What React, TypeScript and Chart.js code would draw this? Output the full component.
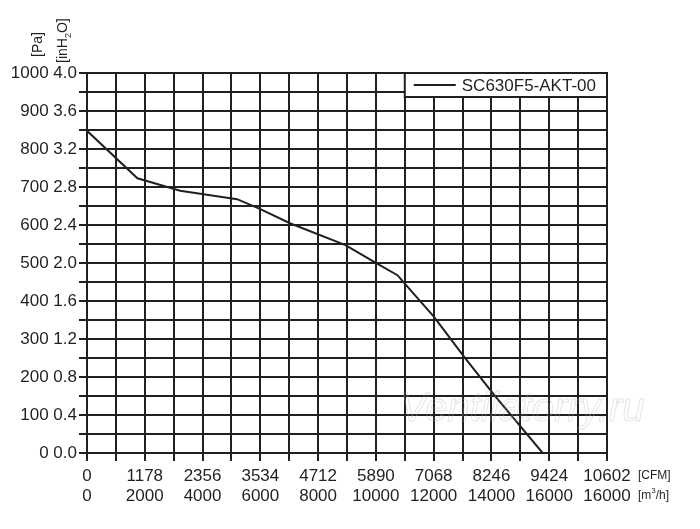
import { useEffect, useRef } from "react";
import { Chart, registerables } from "chart.js";

Chart.register(...registerables);

// Kennlinie SC630F5-AKT-00
const flowCfm = [0, 1028, 1900, 3060, 3534, 4150, 5270, 5880, 6330, 6470, 7075, 7690, 8300, 9290];
const pressurePa = [848, 723, 690, 668, 642, 604, 547, 501, 468, 447, 358, 253, 153, 0];

const cfmTicks = ["0", "1178", "2356", "3534", "4712", "5890", "7068", "8246", "9424", "10602"];
const m3hTicks = ["0", "2000", "4000", "6000", "8000", "10000", "12000", "14000", "16000", "16000"];

const seriesName = "SC630F5-AKT-00";
const ink = "#231f20";
const font = "'Liberation Sans', Arial, sans-serif";

const extras = {
  id: "extras",
  afterDraw(chart: any) {
    const ctx = chart.ctx;
    const area = chart.chartArea;
    const x = chart.scales.x;
    ctx.save();

    // Wasserzeichen
    ctx.font = `italic 40px ${font}`;
    ctx.strokeStyle = "rgba(180,180,180,0.35)";
    ctx.lineWidth = 1;
    ctx.textBaseline = "middle";
    ctx.strokeText("Ventilatorry.ru", 400, 410);

    // Legende im Diagramm oben rechts
    const left = x.getPixelForValue(589 * 11);
    ctx.fillStyle = "#fff";
    ctx.fillRect(left, area.top, area.right - left, 24);
    ctx.strokeStyle = ink;
    ctx.lineWidth = 2;
    ctx.strokeRect(left, area.top, area.right - left, 24);
    ctx.beginPath();
    ctx.moveTo(left + 9, area.top + 12);
    ctx.lineTo(left + 51, area.top + 12);
    ctx.stroke();
    ctx.fillStyle = ink;
    ctx.font = `17px ${font}`;
    ctx.textAlign = "left";
    ctx.textBaseline = "middle";
    ctx.fillText(seriesName, left + 57, area.top + 13);

    // Einheiten an der x-Achse
    ctx.font = `12px ${font}`;
    ctx.fillText("[CFM]", 638, 476);
    ctx.fillText("[m", 638, 496);
    const mw = ctx.measureText("[m").width;
    ctx.font = `8px ${font}`;
    ctx.fillText("3", 638 + mw, 491);
    const sw = ctx.measureText("3").width;
    ctx.font = `12px ${font}`;
    ctx.fillText("/h]", 638 + mw + sw, 496);

    // Einheiten an der y-Achse (gedreht)
    ctx.textBaseline = "alphabetic";
    ctx.save();
    ctx.translate(42, 57);
    ctx.rotate(-Math.PI / 2);
    ctx.font = `14px ${font}`;
    ctx.fillText("[Pa]", 0, 0);
    ctx.restore();

    ctx.save();
    ctx.translate(67, 63);
    ctx.rotate(-Math.PI / 2);
    ctx.font = `14px ${font}`;
    ctx.fillText("[inH", 0, 0);
    let w = ctx.measureText("[inH").width;
    ctx.font = `9px ${font}`;
    ctx.fillText("2", w, 4);
    w += ctx.measureText("2").width;
    ctx.font = `14px ${font}`;
    ctx.fillText("O]", w, 0);
    ctx.restore();

    ctx.restore();
  },
};

const App = () => {
  const chartRef = useRef<HTMLCanvasElement | null>(null);

  useEffect(() => {
    if (!chartRef.current) return;

    const points = flowCfm.map((f, i) => ({ x: f, y: pressurePa[i] }));

    const myChart = new Chart(chartRef.current, {
      type: "line",
      data: {
        datasets: [
          {
            label: seriesName,
            data: points,
            borderColor: ink,
            borderWidth: 2,
            pointRadius: 0,
            tension: 0,
            fill: false,
          },
        ],
      },
      options: {
        responsive: false,
        animation: false,
        layout: { padding: { left: 0, right: 93, top: 73, bottom: 0 } },
        plugins: {
          legend: { display: false },
          tooltip: { enabled: false },
        },
        scales: {
          x: {
            type: "linear",
            min: 0,
            max: 10602,
            grid: { color: ink, lineWidth: 2, tickLength: 8, drawTicks: true },
            border: { color: ink, width: 2 },
            ticks: {
              stepSize: 589,
              autoSkip: false,
              maxRotation: 0,
              padding: 5,
              color: ink,
              font: { family: font, size: 17, lineHeight: 1.2 },
              callback: (_v: any, i: number) =>
                i % 2 === 0 ? [cfmTicks[i / 2], m3hTicks[i / 2]] : "",
            },
            afterFit: (s: any) => {
              s.height = 529 - 453;
            },
          },
          y: {
            type: "linear",
            min: 0,
            max: 1000,
            grid: { color: ink, lineWidth: 2, tickLength: 8, drawTicks: true },
            border: { color: ink, width: 2 },
            ticks: {
              stepSize: 50,
              autoSkip: false,
              padding: 2,
              color: ink,
              font: { family: font, size: 17 },
              callback: (v: any) =>
                Number(v) % 100 === 0 ? `${v} ${(Number(v) / 250).toFixed(1)}` : "",
            },
            afterFit: (s: any) => {
              s.width = 87;
            },
          },
        },
      },
      plugins: [extras],
    });

    return () => {
      myChart.destroy();
    };
  }, []);

  return (
    <div style={{ position: "absolute", left: 0, top: 0 }}>
      <canvas ref={chartRef} width={700} height={529} />
    </div>
  );
};

export default App;
